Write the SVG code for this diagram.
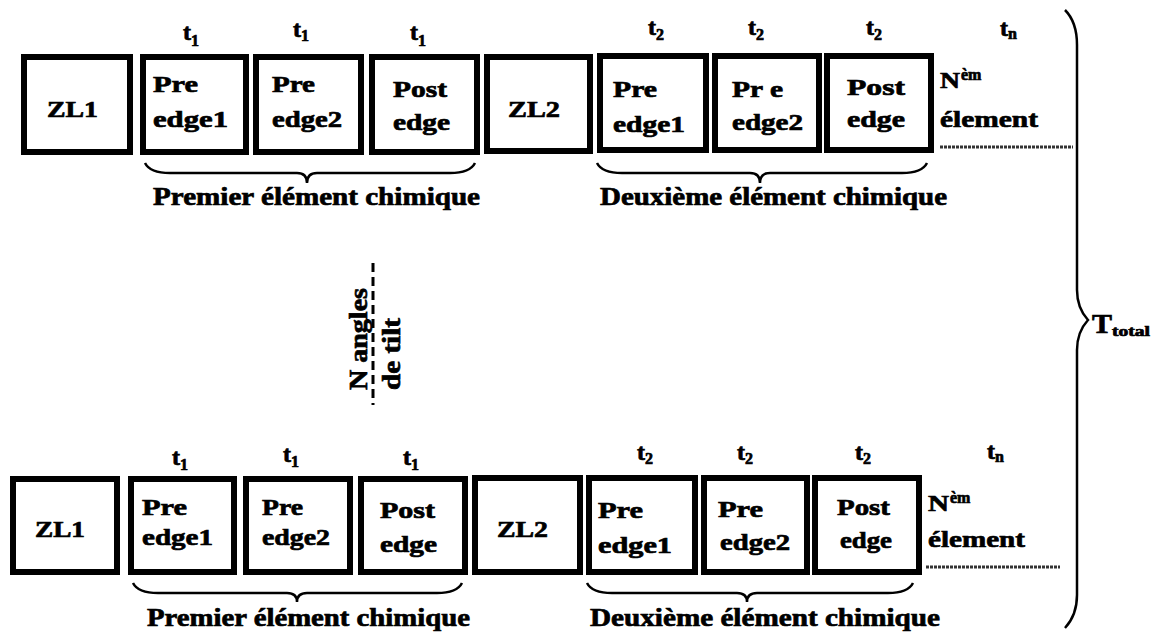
<svg xmlns="http://www.w3.org/2000/svg" width="1153" height="632" viewBox="0 0 1153 632">
<style>
.b{fill:#fff;stroke:#000;stroke-width:6}
text{font-family:"Liberation Serif","Times New Roman",serif;font-weight:bold;fill:#000;stroke:#000;stroke-width:0.7}
.n{font-size:24px}
.l{font-size:25px}
.t{font-size:24px}
.s{font-size:16px}
.br{fill:none;stroke:#000;stroke-width:2.5}
.dot{stroke:#333;stroke-width:3;stroke-dasharray:3 1}
</style>
<rect width="1153" height="632" fill="#fff"/>
<g id="top-row">
<g id="t-zl1"><rect class="b" x="24" y="57" width="106" height="95"/><text class="n" x="47" y="117" textLength="51" lengthAdjust="spacingAndGlyphs">ZL1</text></g>
<g id="t-pre1"><rect class="b" x="143" y="57" width="103" height="95"/><text class="n" x="153" y="92" textLength="45" lengthAdjust="spacingAndGlyphs">Pre</text><text class="n" x="153" y="127" textLength="75" lengthAdjust="spacingAndGlyphs">edge1</text></g>
<g id="t-pre2"><rect class="b" x="256" y="57" width="105" height="95"/><text class="n" x="272" y="92" textLength="43" lengthAdjust="spacingAndGlyphs">Pre</text><text class="n" x="272" y="127" textLength="70" lengthAdjust="spacingAndGlyphs">edge2</text></g>
<g id="t-post1"><rect class="b" x="372" y="57" width="105" height="95"/><text class="n" x="393" y="97" textLength="54" lengthAdjust="spacingAndGlyphs">Post</text><text class="n" x="393" y="130" textLength="57" lengthAdjust="spacingAndGlyphs">edge</text></g>
<g id="t-zl2"><rect class="b" x="487" y="57" width="103" height="94"/><text class="n" x="508" y="117" textLength="52" lengthAdjust="spacingAndGlyphs">ZL2</text></g>
<g id="t-pre3"><rect class="b" x="600" y="56" width="106" height="94"/><text class="n" x="613" y="97" textLength="44" lengthAdjust="spacingAndGlyphs">Pre</text><text class="n" x="613" y="132" textLength="72" lengthAdjust="spacingAndGlyphs">edge1</text></g>
<g id="t-pre4"><rect class="b" x="715" y="56" width="104" height="94"/><text class="n" x="732" y="97" textLength="51" lengthAdjust="spacingAndGlyphs">Pr e</text><text class="n" x="732" y="130" textLength="71" lengthAdjust="spacingAndGlyphs">edge2</text></g>
<g id="t-post2"><rect class="b" x="827" y="56" width="104" height="94"/><text class="n" x="847" y="95" textLength="58" lengthAdjust="spacingAndGlyphs">Post</text><text class="n" x="847" y="127" textLength="58" lengthAdjust="spacingAndGlyphs">edge</text></g>
<g id="t-times">
<text class="t" x="183" y="40">t<tspan class="s" dy="6">1</tspan></text>
<text class="t" x="293" y="37">t<tspan class="s" dy="4">1</tspan></text>
<text class="t" x="410" y="40">t<tspan class="s" dy="6">1</tspan></text>
<text class="t" x="648" y="35">t<tspan class="s" dy="5">2</tspan></text>
<text class="t" x="748" y="35">t<tspan class="s" dy="5">2</tspan></text>
<text class="t" x="866" y="35">t<tspan class="s" dy="5">2</tspan></text>
<text class="t" x="1000" y="36">t<tspan class="s" dy="3">n</tspan></text>
</g>
<g id="t-nth"><text class="n" x="940" y="88" textLength="20" lengthAdjust="spacingAndGlyphs">N</text><text class="s" x="961" y="80" font-size="14">èm</text><text class="n" x="940" y="127" textLength="98" lengthAdjust="spacingAndGlyphs">élement</text></g>
<g id="t-labels">
<text class="l" x="153" y="205" textLength="327" lengthAdjust="spacingAndGlyphs">Premier élément chimique</text>
<text class="l" x="600" y="205" textLength="347" lengthAdjust="spacingAndGlyphs">Deuxième élément chimique</text>
</g>
</g>
<g id="bottom-row">
<g id="b-zl1"><rect class="b" x="13" y="479" width="104" height="93"/><text class="n" x="35" y="537" textLength="50" lengthAdjust="spacingAndGlyphs">ZL1</text></g>
<g id="b-pre1"><rect class="b" x="131" y="479" width="103" height="93"/><text class="n" x="142" y="515" textLength="45" lengthAdjust="spacingAndGlyphs">Pre</text><text class="n" x="142" y="545" textLength="71" lengthAdjust="spacingAndGlyphs">edge1</text></g>
<g id="b-pre2"><rect class="b" x="246" y="479" width="104" height="93"/><text class="n" x="262" y="515" textLength="41" lengthAdjust="spacingAndGlyphs">Pre</text><text class="n" x="262" y="545" textLength="68" lengthAdjust="spacingAndGlyphs">edge2</text></g>
<g id="b-post1"><rect class="b" x="361" y="479" width="104" height="93"/><text class="n" x="380" y="518" textLength="55" lengthAdjust="spacingAndGlyphs">Post</text><text class="n" x="380" y="552" textLength="57" lengthAdjust="spacingAndGlyphs">edge</text></g>
<g id="b-zl2"><rect class="b" x="475" y="478" width="105" height="94"/><text class="n" x="497" y="537" textLength="51" lengthAdjust="spacingAndGlyphs">ZL2</text></g>
<g id="b-pre3"><rect class="b" x="589" y="478" width="106" height="94"/><text class="n" x="598" y="518" textLength="45" lengthAdjust="spacingAndGlyphs">Pre</text><text class="n" x="598" y="553" textLength="74" lengthAdjust="spacingAndGlyphs">edge1</text></g>
<g id="b-pre4"><rect class="b" x="704" y="478" width="103" height="94"/><text class="n" x="718" y="517" textLength="45" lengthAdjust="spacingAndGlyphs">Pre</text><text class="n" x="720" y="550" textLength="70" lengthAdjust="spacingAndGlyphs">edge2</text></g>
<g id="b-post2"><rect class="b" x="815" y="478" width="104" height="94"/><text class="n" x="837" y="515" textLength="53" lengthAdjust="spacingAndGlyphs">Post</text><text class="n" x="840" y="548" textLength="52" lengthAdjust="spacingAndGlyphs">edge</text></g>
<g id="b-times">
<text class="t" x="172" y="465">t<tspan class="s" dy="5">1</tspan></text>
<text class="t" x="283" y="462">t<tspan class="s" dy="5">1</tspan></text>
<text class="t" x="403" y="465">t<tspan class="s" dy="5">1</tspan></text>
<text class="t" x="637" y="460">t<tspan class="s" dy="4">2</tspan></text>
<text class="t" x="737" y="460">t<tspan class="s" dy="4">2</tspan></text>
<text class="t" x="855" y="460">t<tspan class="s" dy="4">2</tspan></text>
<text class="t" x="987" y="459">t<tspan class="s" dy="3">n</tspan></text>
</g>
<g id="b-nth"><text class="n" x="928" y="511" textLength="21" lengthAdjust="spacingAndGlyphs">N</text><text class="s" x="950" y="503" font-size="14">èm</text><text class="n" x="928" y="547" textLength="97" lengthAdjust="spacingAndGlyphs">élement</text></g>
<g id="b-labels">
<text class="l" x="147" y="626" textLength="323" lengthAdjust="spacingAndGlyphs">Premier élément chimique</text>
<text class="l" x="590" y="626" textLength="350" lengthAdjust="spacingAndGlyphs">Deuxième élément chimique</text>
</g>
</g>
<g id="tilt">
<line x1="373" y1="263" x2="373" y2="405" stroke="#000" stroke-width="3" stroke-dasharray="9 5"/>
<text class="l" transform="translate(367,390) rotate(-90)" textLength="102" lengthAdjust="spacingAndGlyphs">N angles</text>
<text class="l" transform="translate(400,390) rotate(-90)" textLength="72" lengthAdjust="spacingAndGlyphs">de tilt</text>
</g>
<g id="total">
<text x="1092" y="333" font-size="28" textLength="20" lengthAdjust="spacingAndGlyphs">T</text>
<text x="1112" y="336" font-size="14" textLength="38" lengthAdjust="spacingAndGlyphs">total</text>
</g>
<g id="connectors">
<path class="br" d="M145 163 Q150 173 170 173 L297 173 Q307 173 307 183 Q307 173 317 173 L450 173 Q470 173 475 163"/>
<path class="br" d="M597 163 Q602 173 622 173 L750 173 Q760 173 760 183 Q760 173 770 173 L902 173 Q922 173 927 163"/>
<path class="br" d="M133 583 Q138 593 158 593 L287 593 Q297 593 297 602 Q297 593 307 593 L437 593 Q457 593 462 583"/>
<path class="br" d="M587 583 Q592 593 612 593 L737 593 Q747 593 747 602 Q747 593 757 593 L888 593 Q908 593 913 583"/>
<path class="br" d="M1065 10 Q1077 22 1077 45 L1077 290 Q1077 308 1088 320 Q1077 332 1077 350 L1077 595 Q1077 615 1065 628"/>
<line class="dot" x1="940" y1="147" x2="1073" y2="147"/>
<line class="dot" x1="926" y1="567" x2="1060" y2="567"/>
</g>
</svg>
